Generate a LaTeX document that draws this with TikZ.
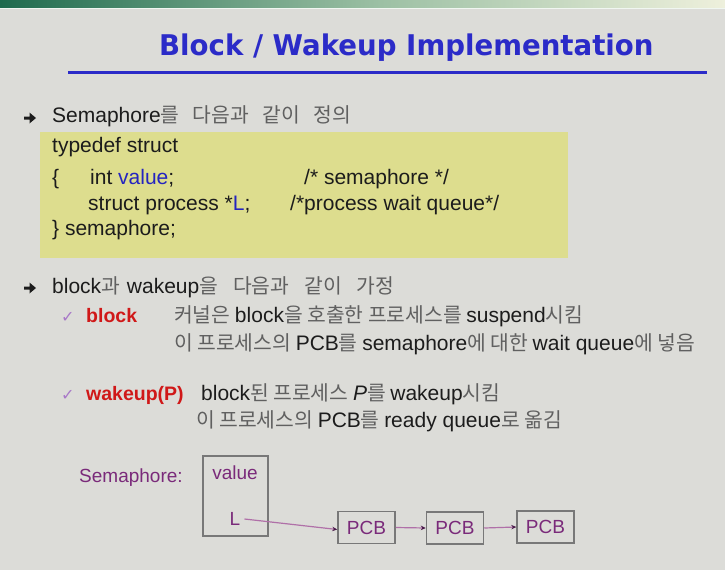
\documentclass[tikz,border=0pt]{standalone}
\usepackage{fontspec}
\usetikzlibrary{arrows.meta}
\setmainfont{Liberation Sans}
\newfontfamily\titlefont{DejaVu Sans}
\newfontfamily\symfont{DejaVu Sans}
\newfontfamily\krfont[Scale=0.97]{Noto Sans CJK KR}
\definecolor{bg}{HTML}{DCDCD8}
\definecolor{bandA}{HTML}{1E6B4E}
\definecolor{bandB}{HTML}{9CC0A4}
\definecolor{bandC}{HTML}{EEF0DC}
\definecolor{titleblue}{HTML}{2B2BC8}
\definecolor{codeblue}{HTML}{2424C0}
\definecolor{codebg}{HTML}{DDDD8E}
\definecolor{kgray}{HTML}{606060}
\definecolor{txt}{HTML}{1C1C1C}
\definecolor{hired}{HTML}{D01818}
\definecolor{chk}{HTML}{A878C8}
\definecolor{semp}{HTML}{7A2A7A}
\definecolor{lnk}{HTML}{B070A8}
\definecolor{tipc}{HTML}{4A1A4A}
\definecolor{boxc}{HTML}{787878}
\newcommand{\kor}[1]{{\krfont\color{kgray}#1}}
\newcommand{\wsp}{\hspace{13.5pt}}
\tikzset{
  txt/.style={anchor=base west, inner sep=0pt, text=txt, font=\fontsize{21}{25}\selectfont},
  hl/.style={anchor=base west, inner sep=0pt, text=hired, font=\fontsize{19.5}{24}\selectfont\bfseries},
  chkm/.style={anchor=base west, inner sep=0pt, text=chk, font=\symfont\fontsize{16}{18}\selectfont},
  dgtxt/.style={inner sep=0pt, text=semp, font=\fontsize{19}{22}\selectfont},
  pcbbox/.style={draw=boxc, line width=1.5pt, minimum width=57pt, minimum height=32pt, inner sep=0pt, text=semp, font=\fontsize{19}{22}\selectfont},
  link/.style={draw=lnk, line width=1.2pt, -{Stealth[length=5pt,width=4.5pt,color=tipc]}},
  bulletarrow/.style={fill=txt}
}
\begin{document}
\begin{tikzpicture}[x=1pt,y=-1pt]
\useasboundingbox (0,0) rectangle (725,570);
\fill[bg] (0,0) rectangle (725,570);
% top band
\shade[left color=bandA, right color=bandB] (0,0) rectangle (380,7.5);
\shade[left color=bandB, right color=bandC] (380,0) rectangle (725,7.5);
\draw[white!85!bandB, line width=0.8pt] (0,8) -- (725,8);
% title
\node[anchor=base west, inner sep=0pt, text=titleblue] (title) at (159,55)
  {\scalebox{0.969}[1]{\titlefont\bfseries\fontsize{28.5}{32}\selectfont Block / Wakeup Implementation}};
\draw[titleblue, line width=3pt] (68,72) -- (707,72);
% bullet 1
\fill[bulletarrow] (24,116.5) -- (29.5,116.5) -- (29.5,112.5) -- (36,118) -- (29.5,123.5) -- (29.5,119.5) -- (24,119.5) -- cycle;
\node[txt] (b1) at (52,122) {Semaphore\kor{를\wsp 다음과\wsp 같이\wsp 정의}};
% code box
\fill[codebg] (40,132) rectangle (568,258);
\node[txt] (c1) at (52,152) {typedef struct};
\node[txt] (c2a) at (52,184) {\{};
\node[txt] (c2b) at (90,184) {int \textcolor{codeblue}{value};};
\node[txt] (c2c) at (304,184) {/* semaphore */};
\node[txt] (c3a) at (88,210) {struct process *\textcolor{codeblue}{L};};
\node[txt] (c3b) at (290,210) {/*process wait queue*/};
\node[txt] (c4) at (52,235) {\} semaphore;};
% bullet 2
\fill[bulletarrow] (24,286.5) -- (29.5,286.5) -- (29.5,282.5) -- (36,288) -- (29.5,293.5) -- (29.5,289.5) -- (24,289.5) -- cycle;
\node[txt] (b2) at (52,293) {block\kor{과\hspace{7pt}}wakeup\kor{을\hspace{15pt}다음과\hspace{15pt}같이\hspace{15pt}가정}};
% block
\node[chkm] (k1) at (61,322) {✓};
\node[hl] (blk) at (86,322) {block};
\node[txt] (blk1) at (174,322) {\kor{커널은 }block\kor{을 호출한 프로세스를 }suspend\kor{시킴}};
\node[txt] (blk2) at (174,350) {\kor{이 프로세스의 }PCB\kor{를 }semaphore\kor{에 대한 }wait queue\kor{에 넣음}};
% wakeup
\node[chkm] (k2) at (61,400) {✓};
\node[hl] (wk) at (86,400) {wakeup(P)};
\node[txt] (wk1) at (201,400) {block\kor{된 프로세스 }\textit{P}\kor{를 }wakeup\kor{시킴}};
\node[txt] (wk2) at (196,427) {\kor{이 프로세스의 }PCB\kor{를 }ready queue\kor{로 옮김}};
% diagram
\node[dgtxt, anchor=base west] (sem) at (79,482) {Semaphore:};
\node[draw=boxc, line width=1.5pt, minimum width=65pt, minimum height=80pt, inner sep=0pt] (vbox) at (235.5,496) {};
\node[dgtxt] (val) at (235,473) {value};
\node[dgtxt] (Lp) at (235,519) {L};
\node[pcbbox] (p1) at (366.5,527.5) {PCB};
\node[pcbbox] (p2) at (455,528) {PCB};
\node[pcbbox] (p3) at (545.5,527) {PCB};
\draw[link] ([xshift=4pt]Lp.east) -- ([yshift=-2pt]p1.west);
\draw[link] (p1.east) -- (p2.west);
\draw[link] (p2.east) -- (p3.west);
\end{tikzpicture}
\end{document}
